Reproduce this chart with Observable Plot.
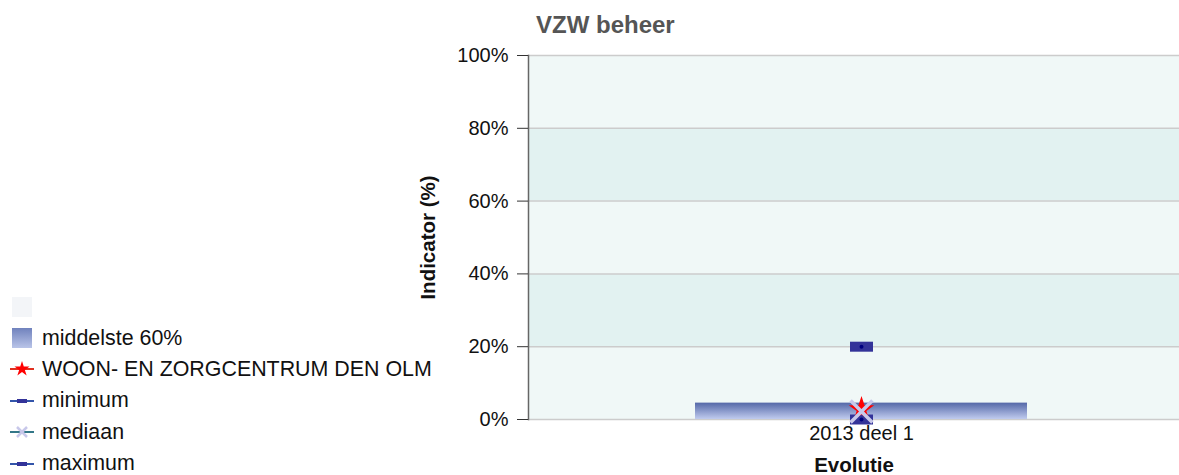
<!DOCTYPE html>
<html>
<head>
<meta charset="utf-8">
<script src="https://cdn.jsdelivr.net/npm/d3@7"></script>
<script src="https://cdn.jsdelivr.net/npm/@observablehq/plot@0.6"></script>
<style>
  html, body { margin: 0; padding: 0; background: #fff; overflow: hidden; }
  body { font-family: "Liberation Sans", Arial, sans-serif; }
  #wrap { position: relative; width: 1179px; height: 475px; }
  #title { position: absolute; left: 536px; top: 11px; font-size: 24px; font-weight: bold; color: #555; }
  #legend { position: absolute; left: 10px; top: 291px; }
  .li { display: flex; align-items: center; height: 31.4px; font-size: 21.4px; color: #111; white-space: nowrap; }
  .li svg { margin-right: 8px; }
  #chart { position: absolute; left: 0; top: 0; }
</style>
</head>
<body>
<div id="wrap">
  <div id="chart"></div>
  <div id="title"></div>
  <div id="legend"></div>
</div>
<script>
const title = "VZW beheer";
const categories = ["2013 deel 1"];
const p20 = [0];
const p80 = [4.5];
const minimum = [0];
const mediaan = [2.2];
const maximum = [20];
const eigen = [2.8];          // WOON- EN ZORGCENTRUM DEN OLM
const yTicks = [0, 20, 40, 60, 80, 100];
const bandLo = [0, 20, 40, 60, 80];
const bandHi = [20, 40, 60, 80, 100];
const legendLabels = ["", "middelste 60%", "WOON- EN ZORGCENTRUM DEN OLM", "minimum", "mediaan", "maximum"];

document.getElementById("title").textContent = title;

const rows = categories.map((c, i) => ({
  cat: c, lo: p20[i], hi: p80[i], min: minimum[i], med: mediaan[i], max: maximum[i], own: eigen[i]
}));
const bands = bandLo.map((lo, i) => ({lo, hi: bandHi[i], dark: i % 2 === 1}));

const rectSym = {draw(ctx) { ctx.rect(-11.5, -5, 23, 10); }};

const defs = () => {
  const ns = "http://www.w3.org/2000/svg";
  const d = document.createElementNS(ns, "defs");
  d.innerHTML = `<linearGradient id="g60" x1="0" y1="0" x2="0" y2="1">
      <stop offset="0" stop-color="#5468a8"/><stop offset="1" stop-color="#c0cbee"/></linearGradient>`;
  return d;
};

const chart = Plot.plot({
  width: 1179,
  height: 475,
  marginLeft: 528,
  marginRight: 0,
  marginTop: 55,
  marginBottom: 56,
  style: {fontFamily: "'Liberation Sans', Arial, sans-serif", fontSize: "21px", color: "#111", background: "transparent"},
  x: {domain: categories, range: [528, 1193], padding: 1/3},
  y: {domain: [0, 100]},
  marks: [
    defs,
    Plot.rect(bands, {y1: "lo", y2: "hi", fill: d => d.dark ? "#e2f2f1" : "#f0f8f7"}),
    Plot.ruleY(yTicks, {stroke: "#cccccc", strokeWidth: 1.5}),
    Plot.frame({anchor: "left", stroke: "#666", strokeWidth: 1.5}),
    Plot.axisY({ticks: yTicks, tickFormat: d => d + "%", tickSize: 11, tickPadding: 9, stroke: "#333", fontSize: 20,
      label: "Indicator (%)", labelAnchor: "center", labelArrow: "none", labelOffset: 108}),
    Plot.axisX({tickSize: 0, tickPadding: 6, fontSize: 20, label: "Evolutie", labelAnchor: "center", labelArrow: "none", labelOffset: 52}),
    Plot.barY(rows, {x: "cat", y1: "lo", y2: "hi", fill: "url(#g60)"}),
    Plot.dot(rows, {x: "cat", y: "min", symbol: rectSym, fill: "#333399", stroke: "none"}),
    Plot.dot(rows, {x: "cat", y: "min", r: 2, fill: "#000080"}),
    Plot.dot(rows, {x: "cat", y: "max", symbol: rectSym, fill: "#333399", stroke: "none"}),
    Plot.dot(rows, {x: "cat", y: "max", r: 2, fill: "#000080"}),
    Plot.dot(rows, {x: "cat", y: "own", symbol: "star", r: 8, fill: "#ff0000", stroke: "none"}),
    Plot.dot(rows, {x: "cat", y: "med", symbol: "times", r: 10, stroke: "#c8c8ea", strokeWidth: 3.5, fill: "none"})
  ]
});
// bold axis labels
chart.querySelectorAll("[aria-label='y-axis label'] text, [aria-label='x-axis label'] text").forEach(t => {
  t.setAttribute("font-weight", "bold");
  t.setAttribute("font-size", "20.5");
});
document.getElementById("chart").appendChild(chart);

// legend
const ns = "http://www.w3.org/2000/svg";
const lg = document.getElementById("legend");
const swatches = [
  `<rect x="2" y="3" width="20" height="20" fill="#f3f5f8"/>`,
  `<defs><linearGradient id="lg60" x1="0" y1="0" x2="0" y2="1"><stop offset="0" stop-color="#7082bd"/><stop offset="1" stop-color="#b9c4e8"/></linearGradient></defs><rect x="2" y="3" width="20" height="20" fill="url(#lg60)"/>`,
  `<line x1="0" y1="13" x2="24" y2="13" stroke="#e03020" stroke-width="2"/><path d="${d3.symbol(d3.symbolStar, 70)()}" transform="translate(12,13)" fill="#ff0000"/>`,
  `<line x1="0" y1="13" x2="24" y2="13" stroke="#3355aa" stroke-width="2"/><rect x="7" y="11" width="10" height="4" fill="#333399"/>`,
  `<line x1="0" y1="13" x2="24" y2="13" stroke="#337788" stroke-width="2"/><path d="M7 8 L17 18 M17 8 L7 18" stroke="#c8c8ea" stroke-width="2.5"/>`,
  `<line x1="0" y1="13" x2="24" y2="13" stroke="#3355aa" stroke-width="2"/><rect x="7" y="11" width="10" height="4" fill="#333399"/>`
];
legendLabels.forEach((lab, i) => {
  const div = document.createElement("div");
  div.className = "li";
  div.innerHTML = `<svg width="24" height="26" xmlns="${ns}">${swatches[i]}</svg><span></span>`;
  div.querySelector("span").textContent = lab;
  lg.appendChild(div);
});
</script>
</body>
</html>
